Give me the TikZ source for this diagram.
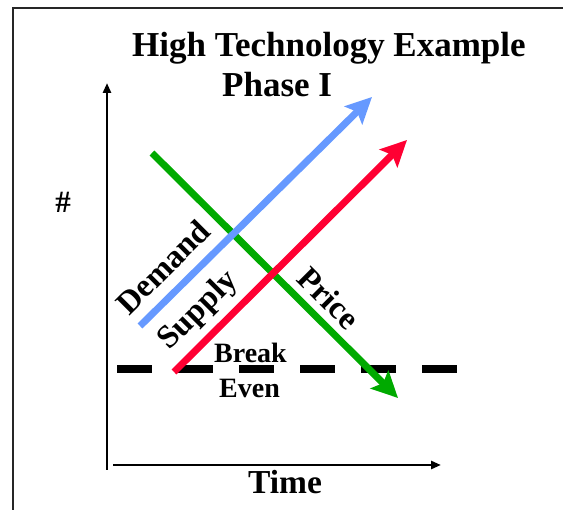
\documentclass[tikz,border=0pt]{standalone}
\usepackage{fontspec}
\setmainfont{Liberation Serif}
\usetikzlibrary{arrows.meta}
\definecolor{demandblue}{RGB}{102,153,255}
\definecolor{supplyred}{RGB}{255,0,51}
\definecolor{pricegreen}{RGB}{0,170,0}
\tikzset{
  frameline/.style={line width=2pt, black!85},
  axisline/.style={line width=2.5pt, -{Triangle[length=10pt,width=8pt]}},
  trendarrow/.style={line width=7pt, -{Stealth[length=26pt,width=25pt,inset=5pt]}},
  label/.style={font=\bfseries\fontsize{#1}{#1}\selectfont, inner sep=0pt},
  breakeven/.style={line width=8pt, dash pattern=on 35pt off 26pt}
}
\begin{document}
\begin{tikzpicture}[x=1pt,y=-1pt]
\useasboundingbox (0,0) rectangle (563,510);
% frame (left and top edges)
\coordinate (fbl) at (13,512);
\coordinate (ftl) at (13,8);
\coordinate (ftr) at (565,8);
\draw[frameline] (fbl) -- (ftl) -- (ftr);
% title
\node[label=35, anchor=base west] (title) at (132,57) {High Technology Example};
\node[label=35, anchor=base west] (phase) at (222,97) {Phase I};
% axes
\coordinate (yb) at (107,470);
\coordinate (yt) at (107,83);
\coordinate (xl) at (113,465);
\coordinate (xr) at (441,465);
\draw[axisline] (yb) -- (yt);
\draw[axisline] (xl) -- (xr);
\node[label=31] (hash) at (63,202) {\#};
\node[label=33.5, anchor=base] (time) at (285,494) {Time};
% break-even level
\coordinate (be0) at (117,369);
\coordinate (be1) at (457,369);
\draw[breakeven] (be0) -- (be1);
\node[label=28, anchor=base west] (brk) at (214,363) {Break};
\node[label=28, anchor=base west] (even) at (219,398) {Even};
% trend arrows
\coordinate (p0) at (152,153);
\coordinate (p1) at (398,398);
\coordinate (d0) at (140,326);
\coordinate (d1) at (372,97);
\coordinate (s0) at (174,372);
\coordinate (s1) at (407,140);
\draw[trendarrow, pricegreen] (p0) -- (p1);
\draw[trendarrow, demandblue] (d0) -- (d1);
\draw[trendarrow, supplyred] (s0) -- (s1);
% arrow labels
\node[label=32.5, rotate=45] (dem) at (163,267) {Demand};
\node[label=32.5, rotate=45] (sup) at (199,311) {Supply};
\node[label=32.5, rotate=-45] (pri) at (329,298) {Price};
\end{tikzpicture}
\end{document}
